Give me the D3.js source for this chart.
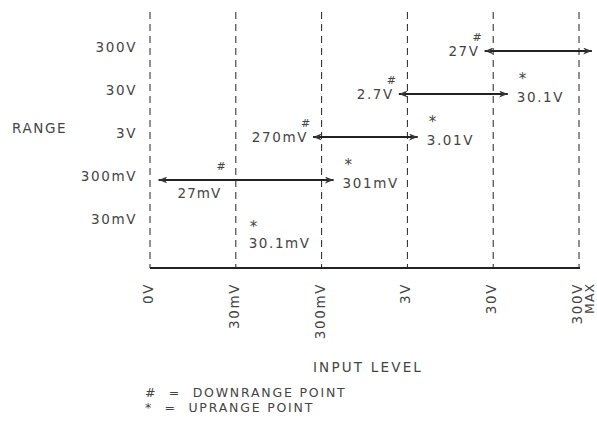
<!DOCTYPE html>
<html>
<head>
<meta charset="utf-8">
<script src="https://cdn.jsdelivr.net/npm/d3@7"></script>
<style>
  body { margin: 0; background: #fff; }
  text { font-family: "DejaVu Sans", sans-serif; fill: #444; }
</style>
</head>
<body>
<div id="chart-container"></div>
<script>
// Range rows (top to bottom) and input-level ticks (decade steps)
const ranges = ["300V", "30V", "3V", "300mV", "30mV"];
const inputTicks = ["0V", "30mV", "300mV", "3V", "30V", "300V"];
const inputPos = [0, 1, 2, 3, 4, 5];

// Autorange transitions: row, downrange point, uprange point (in decade units)
const arrowRows = ["300mV", "3V", "30V", "300V"];
const arrowFrom = [0.1, 1.9, 2.9, 3.9];
const arrowTo = [2.14, 3.12, 4.17, 5.15];
const downLabels = ["27mV", "270mV", "2.7V", "27V"];
const upLabels = ["301mV", "3.01V", "30.1V", null];

// Lone uprange point on the 30mV range
const lonePointRow = "30mV";
const lonePointPos = 1.15;
const lonePointLabel = "30.1mV";

const W = 597, H = 435;
const FS = "13.5px", LS = "1.6px";

const svg = d3.select("#chart-container")
  .append("svg")
  .attr("width", W)
  .attr("height", H);

const x = d3.scaleLinear().domain([0, 5]).range([150, 579]);
const y = d3.scalePoint().domain(ranges).range([50, 222]);
const yTop = 12, yBase = 268;

// marker for arrow heads
svg.append("defs").append("marker")
  .attr("id", "head")
  .attr("viewBox", "0 0 10 8")
  .attr("refX", 10)
  .attr("refY", 4)
  .attr("markerWidth", 9)
  .attr("markerHeight", 7)
  .attr("markerUnits", "userSpaceOnUse")
  .attr("orient", "auto-start-reverse")
  .append("path")
  .attr("d", "M0,0 L10,4 L0,8 L3,4 Z")
  .attr("fill", "#333");

// dashed verticals
svg.append("g")
  .selectAll("line")
  .data(inputPos)
  .enter().append("line")
  .attr("x1", d => x(d))
  .attr("x2", d => x(d))
  .attr("y1", yTop)
  .attr("y2", yBase)
  .attr("stroke", "#222")
  .attr("stroke-width", 1)
  .attr("stroke-dasharray", "7,5");

// baseline
svg.append("line")
  .attr("x1", x(0))
  .attr("x2", x(5) + 1)
  .attr("y1", yBase)
  .attr("y2", yBase)
  .attr("stroke", "#222")
  .attr("stroke-width", 2);

// y labels
svg.append("g")
  .selectAll("text")
  .data(ranges)
  .enter().append("text")
  .attr("x", 137)
  .attr("y", d => y(d) - 3)
  .attr("dy", "0.35em")
  .attr("text-anchor", "end")
  .style("font-size", FS)
  .style("letter-spacing", LS)
  .text(d => d);

svg.append("text")
  .attr("x", 12)
  .attr("y", 128)
  .attr("dy", "0.35em")
  .style("font-size", FS)
  .style("letter-spacing", LS)
  .text("RANGE");

// x tick labels (rotated)
const xt = svg.append("g")
  .selectAll("g")
  .data(inputPos)
  .enter().append("g")
  .attr("transform", d => `translate(${x(d) + 3},283) rotate(-90)`);
xt.append("text")
  .attr("text-anchor", "end")
  .style("font-size", FS)
  .style("letter-spacing", LS)
  .text((d, i) => inputTicks[i]);
// "MAX" next to the last tick
svg.append("g")
  .attr("transform", `translate(${x(5) + 15},283) rotate(-90)`)
  .append("text")
  .attr("text-anchor", "end")
  .style("font-size", "12.5px")
  .style("letter-spacing", "1px")
  .text("MAX");

svg.append("text")
  .attr("x", 368)
  .attr("y", 367)
  .attr("dy", "0.35em")
  .attr("text-anchor", "middle")
  .style("font-size", FS)
  .style("letter-spacing", "2.2px")
  .text("INPUT LEVEL");

// arrows
arrowRows.forEach((r, i) => {
  const yy = y(r) + 1;
  const x0 = x(arrowFrom[i]), x1 = x(arrowTo[i]);
  svg.append("line")
    .attr("x1", x0)
    .attr("x2", x1)
    .attr("y1", yy)
    .attr("y2", yy)
    .attr("stroke", "#222")
    .attr("stroke-width", 2)
    .attr("marker-start", "url(#head)")
    .attr("marker-end", "url(#head)");

  // downrange label
  if (arrowFrom[i] < 0.5) {
    // no room at the left: label sits under the arrow
    svg.append("text")
      .attr("x", x0 + 19)
      .attr("y", yy + 13)
      .attr("dy", "0.35em")
      .style("font-size", FS)
      .style("letter-spacing", "1px")
      .text(downLabels[i]);
    svg.append("text")
      .attr("x", x0 + 58)
      .attr("y", yy - 14)
      .attr("dy", "0.35em")
      .style("font-size", "11px")
      .text("#");
  } else {
    svg.append("text")
      .attr("x", x0 - 5)
      .attr("y", yy)
      .attr("dy", "0.35em")
      .attr("text-anchor", "end")
      .style("font-size", FS)
      .style("letter-spacing", LS)
      .text(downLabels[i]);
    svg.append("text")
      .attr("x", x0 - 12)
      .attr("y", yy - 14)
      .attr("dy", "0.35em")
      .style("font-size", "11px")
      .text("#");
  }

  // uprange label
  if (upLabels[i]) {
    svg.append("text")
      .attr("x", x1 + 9)
      .attr("y", yy + 3)
      .attr("dy", "0.35em")
      .style("font-size", FS)
      .style("letter-spacing", LS)
      .text(upLabels[i]);
    svg.append("text")
      .attr("x", x1 + 11)
      .attr("y", yy - 15)
      .attr("dy", "0.35em")
      .style("font-size", "15px")
      .text("*");
  }
});

// lone uprange point
svg.append("text")
  .attr("x", x(lonePointPos))
  .attr("y", y(lonePointRow) + 21)
  .attr("dy", "0.35em")
  .style("font-size", FS)
  .style("letter-spacing", LS)
  .text(lonePointLabel);
svg.append("text")
  .attr("x", x(lonePointPos) + 1)
  .attr("y", y(lonePointRow) + 5)
  .attr("dy", "0.35em")
  .style("font-size", "15px")
  .text("*");

// key
const legendItems = ["#  =  DOWNRANGE POINT", "*  =  UPRANGE POINT"];
svg.append("g")
  .selectAll("text")
  .data(legendItems)
  .enter().append("text")
  .attr("x", 145)
  .attr("y", (d, i) => 393 + i * 15)
  .attr("dy", "0.35em")
  .attr("xml:space", "preserve")
  .style("white-space", "pre")
  .style("font-size", "12.5px")
  .style("letter-spacing", "1.8px")
  .text(d => d);
</script>
</body>
</html>
